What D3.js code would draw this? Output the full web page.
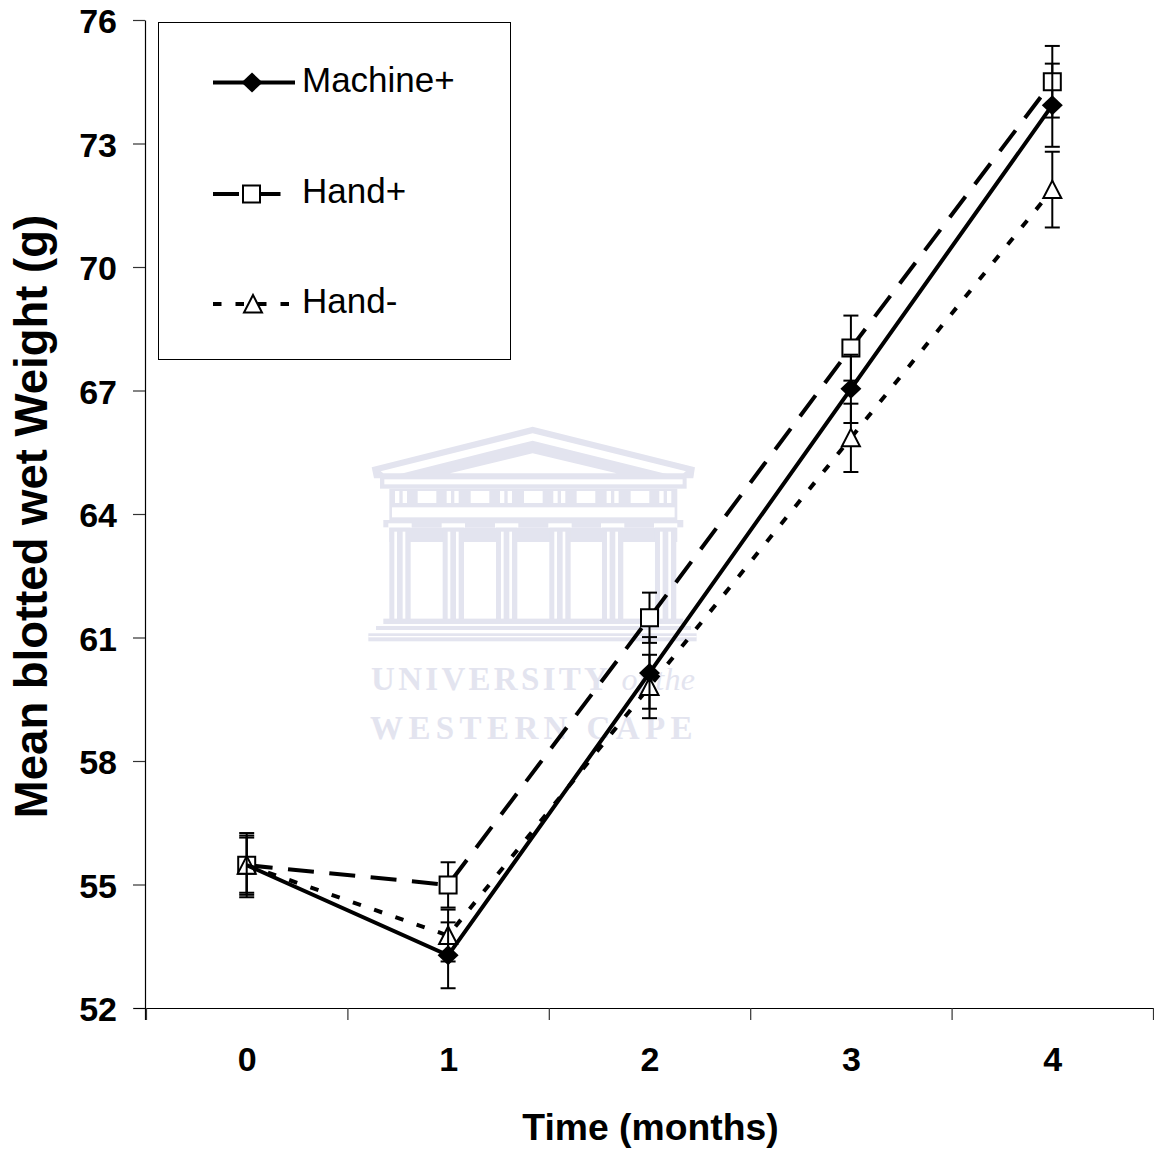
<!DOCTYPE html>
<html>
<head>
<meta charset="utf-8">
<script src="https://cdn.jsdelivr.net/npm/d3@7"></script>
<style>
  html, body { margin: 0; padding: 0; background: #fff; }
  svg { display: block; }
  text { font-family: "Liberation Sans", Arial, sans-serif; fill: #000; }
  .tick-label text { font-size: 34px; font-weight: bold; }
  .axis-title { font-weight: bold; }
  .axis path, .axis line { stroke: #000; stroke-width: 1.2px; }
  .axis .tick line { stroke: #333; }
  .crest { fill: #e3e4ef; }
  .crest-gap { fill: #fff; }
  .crest-text { fill: #e3e4ef; font-family: "Liberation Serif", serif; font-weight: bold; }
</style>
</head>
<body>
<svg id="chart" width="1154" height="1153"></svg>
<script>
const months = [0, 1, 2, 3, 4];
const yTicks = [52, 55, 58, 61, 64, 67, 70, 73, 76];

const machineMeans = [55.47, 53.28, 60.14, 67.04, 73.93];
const machineErrors = [0.72, 0.80, 0.87, 0.83, 1.01];
const handPlusMeans = [55.47, 54.99, 61.48, 68.03, 74.50];
const handPlusErrors = [0.78, 0.55, 0.61, 0.79, 0.87];
const handMinusMeans = [55.47, 53.76, 59.81, 65.85, 71.88];
const handMinusErrors = [0.67, 0.63, 0.77, 0.83, 0.92];

const plotLeft = 146;
const plotRight = 1153;
const plotTop = 20;
const plotBottom = 1008;

// half sizes of the markers, px
function diamond(p) {
  p.moveTo(0, -10); p.lineTo(10.5, 0); p.lineTo(0, 10); p.lineTo(-10.5, 0); p.closePath();
}
function square(p) {
  p.rect(-8.5, -8.5, 17, 17);
}
function triangle(p) {
  p.moveTo(0, -9); p.lineTo(9, 8.5); p.lineTo(-9, 8.5); p.closePath();
}
function markerPath(shape) {
  const p = d3.path();
  shape(p);
  return p.toString();
}

// draw order: the solid series sits on top except at month 0, where its marker is hidden
const series = [
  { name: 'Hand+', means: handPlusMeans, errors: handPlusErrors, shape: square, fill: '#fff', dash: '26 15.5', legendLen: 68, legendY: 194, markerX: 251.5, skipMarker: [] },
  { name: 'Hand-', means: handMinusMeans, errors: handMinusErrors, shape: triangle, fill: '#fff', dash: '8.5 14', legendLen: 77, legendY: 304, markerX: 253, skipMarker: [] },
  { name: 'Machine+', means: machineMeans, errors: machineErrors, shape: diamond, fill: '#000', dash: null, legendLen: 82, legendY: 82.5, markerX: 252, skipMarker: [0] },
];

const svg = d3.select('#chart');

// Watermark crest, traced in the crop's 3x space
const crest = svg.append('g').attr('transform', 'translate(350,410) scale(0.3333)');
function poly(cls, pts) { crest.append('polygon').attr('class', cls).attr('points', pts); }
function rect(cls, x, y, w, h) {
  crest.append('rect').attr('class', cls).attr('x', x).attr('y', y).attr('width', w).attr('height', h);
}
poly('crest', '65,172 548,50 1035,172 1030,205 72,205');
poly('crest-gap', '92,184 548,70 1008,184 1000,190 100,190');
poly('crest', '150,192 548,92 950,192');
poly('crest-gap', '300,190 548,130 800,190');
rect('crest', 90, 200, 920, 36);
rect('crest-gap', 103, 208, 895, 15);
rect('crest', 118, 236, 864, 96);
rect('crest-gap', 126, 292, 848, 30);
[135, 290, 450, 610, 770, 928].forEach((x) => {
  rect('crest-gap', x, 243, 13, 36);
  rect('crest-gap', x + 23, 243, 13, 36);
});
[203, 362, 522, 680, 842].forEach((x) => rect('crest-gap', x, 243, 56, 36));
rect('crest', 100, 330, 900, 22);
rect('crest', 118, 352, 864, 44);
[115, 275, 435, 595, 753, 912].forEach((x) => {
  rect('crest-gap', x, 340, 70, 13);
  rect('crest', x + 3, 353, 64, 275);
  rect('crest-gap', x + 18, 365, 8, 262);
  rect('crest-gap', x + 43, 365, 8, 262);
});
rect('crest', 100, 626, 900, 16);
rect('crest', 78, 648, 945, 12);
rect('crest', 55, 670, 985, 24);
rect('crest-gap', 55, 678, 985, 4);

const crestTop = svg.append('text').attr('class', 'crest-text')
  .attr('x', 371).attr('y', 690).attr('font-size', 33).attr('letter-spacing', 3.3);
crestTop.append('tspan').text('UNIVERSITY ');
crestTop.append('tspan').attr('font-style', 'italic').attr('font-weight', 'normal').attr('font-size', 32).attr('letter-spacing', 0.3).text('of the');
svg.append('text').attr('class', 'crest-text')
  .attr('x', 370).attr('y', 739).attr('font-size', 33).attr('letter-spacing', 5.4)
  .text('WESTERN CAPE');

// Scales
const x = d3.scaleLinear().domain([-0.5, 4.5]).range([plotLeft, plotRight]);
const y = d3.scaleLinear().domain([52, 76]).range([plotBottom, plotTop]);

// Axes
const gY = svg.append('g')
  .attr('class', 'axis tick-label')
  .attr('transform', `translate(${plotLeft - 1},0)`)
  .call(d3.axisLeft(y).tickValues(yTicks).tickSize(12).tickSizeOuter(0).tickPadding(16));
gY.selectAll('.tick text').attr('dy', '0.37em');
gY.select('.domain').attr('d', `M0.5,${y(76) + 0.5}V${plotBottom + 12}`);

const gX = svg.append('g')
  .attr('class', 'axis')
  .attr('transform', `translate(0,${plotBottom})`);
gX.call(d3.axisBottom(x).tickValues(months.map((m) => m - 0.5).concat(4.5)).tickSize(12).tickSizeOuter(0).tickFormat(''));
gX.select('.domain').attr('d', `M${plotLeft - 12},0.5H${plotRight}`);

const gXLabels = svg.append('g')
  .attr('class', 'tick-label')
  .attr('transform', `translate(0,${plotBottom})`)
  .call(d3.axisBottom(x).tickValues(months).tickSize(0).tickPadding(39).tickFormat(d3.format('d')));
gXLabels.select('.domain').remove();

svg.append('text').attr('class', 'axis-title')
  .attr('text-anchor', 'middle')
  .attr('transform', 'translate(47,516.5) rotate(-90)')
  .attr('font-size', 45.5)
  .text('Mean blotted wet Weight (g)');

svg.append('text').attr('class', 'axis-title')
  .attr('text-anchor', 'middle')
  .attr('x', 650.5).attr('y', 1140)
  .attr('font-size', 37.3)
  .text('Time (months)');

// Series
const line = d3.line().x((d) => x(d.month)).y((d) => y(d.mean));

series.forEach((s) => {
  const points = months.map((month, i) => ({ month, mean: s.means[i], error: s.errors[i] }));
  const g = svg.append('g').attr('class', 'series');

  const bars = g.append('g').attr('stroke', '#000').attr('stroke-width', 2).selectAll('g')
    .data(points).join('g');
  bars.append('line')
    .attr('x1', (d) => x(d.month)).attr('x2', (d) => x(d.month))
    .attr('y1', (d) => y(d.mean + d.error)).attr('y2', (d) => y(d.mean - d.error));
  [1, -1].forEach((sign) => {
    bars.append('line')
      .attr('x1', (d) => x(d.month) - 7.5).attr('x2', (d) => x(d.month) + 7.5)
      .attr('y1', (d) => y(d.mean + sign * d.error)).attr('y2', (d) => y(d.mean + sign * d.error));
  });

  g.append('path')
    .datum(points)
    .attr('fill', 'none')
    .attr('stroke', '#000')
    .attr('stroke-width', 4)
    .attr('stroke-dasharray', s.dash)
    .attr('d', line);

  g.selectAll('.marker')
    .data(points.filter((d) => !s.skipMarker.includes(d.month)))
    .join('path')
    .attr('class', 'marker')
    .attr('d', markerPath(s.shape))
    .attr('transform', (d) => `translate(${x(d.month)},${y(d.mean)})`)
    .attr('fill', s.fill)
    .attr('stroke', '#000')
    .attr('stroke-width', s.fill === '#000' ? 0 : 2);
});

// Legend
const legend = svg.append('g');
legend.append('rect')
  .attr('x', 158.5).attr('y', 22.5).attr('width', 352).attr('height', 337)
  .attr('fill', '#fff').attr('stroke', '#000').attr('stroke-width', 1);

const legendRows = legend.selectAll('.legend-row').data(series).join('g').attr('class', 'legend-row');
legendRows.append('line')
  .attr('x1', 213).attr('x2', (d) => 213 + d.legendLen)
  .attr('y1', (d) => d.legendY).attr('y2', (d) => d.legendY)
  .attr('stroke', '#000').attr('stroke-width', 4)
  .attr('stroke-dasharray', (d) => d.dash);
legendRows.append('path')
  .attr('d', (d) => markerPath(d.shape))
  .attr('transform', (d) => `translate(${d.markerX},${d.legendY})`)
  .attr('fill', (d) => d.fill)
  .attr('stroke', '#000')
  .attr('stroke-width', (d) => (d.fill === '#000' ? 0 : 2));
legendRows.append('text')
  .attr('x', 302).attr('y', (d) => d.legendY + 9)
  .attr('font-size', 35)
  .text((d) => d.name);
</script>
</body>
</html>
